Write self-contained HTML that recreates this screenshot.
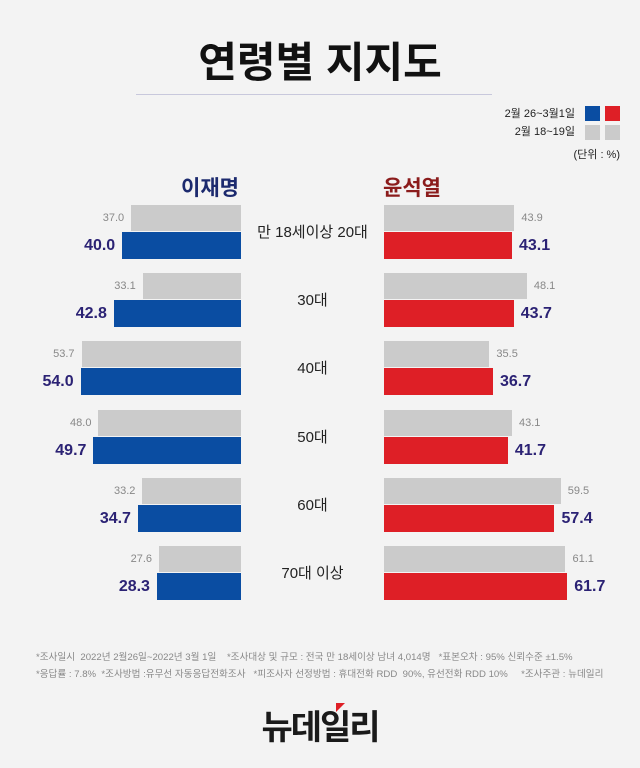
<!DOCTYPE html><html><head><meta charset="utf-8"><style>
body{margin:0;width:640px;height:768px;background:#f3f3f3;position:relative;overflow:hidden;font-family:"Liberation Sans","Noto Sans CJK KR",sans-serif}
.a{position:absolute;white-space:nowrap}
.g{background:#cbcbcb;position:absolute;height:26px}
.b{background:#0a4da2;position:absolute;height:27px}
.r{background:#de1f26;position:absolute;height:27px}
.sv{position:absolute;font-size:11px;color:#888;line-height:26px}
.v{position:absolute;font-size:16px;font-weight:bold;color:#2b2274;line-height:27px}
.c{position:absolute;left:242px;width:141px;text-align:center;font-size:15px;color:#222;line-height:20px}
</style></head><body>
<div class="a" style="left:0;width:640px;top:29px;text-align:center;font-size:42px;font-weight:bold;color:#111">연령별 지지도</div>
<div class="a" style="left:136px;top:94px;width:356px;height:1px;background:#c8c8dc"></div>
<div class="a" style="right:65px;top:105px;font-size:11px;color:#222">2월 26~3월1일</div>
<div class="a" style="left:585px;top:106px;width:15px;height:15px;background:#0a4da2"></div>
<div class="a" style="left:605px;top:106px;width:15px;height:15px;background:#de1f26"></div>
<div class="a" style="right:65px;top:123px;font-size:11px;color:#222">2월 18~19일</div>
<div class="a" style="left:585px;top:125px;width:15px;height:15px;background:#cbcbcb"></div>
<div class="a" style="left:605px;top:125px;width:15px;height:15px;background:#cbcbcb"></div>
<div class="a" style="right:20px;top:146px;font-size:11px;color:#222">(단위 : %)</div>
<div class="a" style="left:160px;width:100px;text-align:center;top:172px;font-size:21px;font-weight:bold;color:#1c2a6e">이재명</div>
<div class="a" style="left:362px;width:100px;text-align:center;top:172px;font-size:21px;font-weight:bold;color:#8b1c1c">윤석열</div>
<div id="rows"></div>
<div class="a" style="left:36px;top:649px;font-size:9.6px;color:#888">*조사일시 &nbsp;2022년 2월26일~2022년 3월 1일 &nbsp;&nbsp;&nbsp;*조사대상 및 규모 : 전국 만 18세이상 남녀 4,014명 &nbsp;&nbsp;*표본오차 : 95% 신뢰수준 ±1.5%</div>
<div class="a" style="left:36px;top:666px;font-size:9.6px;color:#888">*응답률 : 7.8% &nbsp;*조사방법 :유무선 자동응답전화조사 &nbsp;&nbsp;*피조사자 선정방법 : 휴대전화 RDD &nbsp;90%, 유선전화 RDD 10% &nbsp;&nbsp;&nbsp;&nbsp;*조사주관 : 뉴데일리</div>
<div class="a" style="left:0;width:640px;text-align:center;top:700px;font-size:34px;font-weight:bold;color:#1a1a1a;letter-spacing:-2px">뉴데일리</div>
<div class="a" style="left:336px;top:703px;width:0;height:0;border-left:9px solid #de1f26;border-bottom:9px solid transparent"></div>
<script>
var d=[["만 18세이상 20대",37.0,40.0,43.9,43.1],["30대",33.1,42.8,48.1,43.7],["40대",53.7,54.0,35.5,36.7],["50대",48.0,49.7,43.1,41.7],["60대",33.2,34.7,59.5,57.4],["70대 이상",27.6,28.3,61.1,61.7]];
var s=2.97,h="";
d.forEach(function(r,i){var y=205+i*68.2;
var w1=r[1]*s,w2=r[2]*s,w3=r[3]*s,w4=r[4]*s;
h+='<div class="g" style="left:'+(241-w1)+'px;top:'+y+'px;width:'+w1+'px"></div>';
h+='<div class="b" style="left:'+(241-w2)+'px;top:'+(y+27)+'px;width:'+w2+'px"></div>';
h+='<div class="sv" style="right:'+(640-241+w1+7)+'px;top:'+y+'px">'+r[1].toFixed(1)+'</div>';
h+='<div class="v" style="right:'+(640-241+w2+7)+'px;top:'+(y+27)+'px">'+r[2].toFixed(1)+'</div>';
h+='<div class="g" style="left:384px;top:'+y+'px;width:'+w3+'px"></div>';
h+='<div class="r" style="left:384px;top:'+(y+27)+'px;width:'+w4+'px"></div>';
h+='<div class="sv" style="left:'+(384+w3+7)+'px;top:'+y+'px">'+r[3].toFixed(1)+'</div>';
h+='<div class="v" style="left:'+(384+w4+7)+'px;top:'+(y+27)+'px">'+r[4].toFixed(1)+'</div>';
h+='<div class="c" style="top:'+(y+18)+'px">'+r[0]+'</div>';
});
document.getElementById("rows").innerHTML=h;
</script>
</body></html>
